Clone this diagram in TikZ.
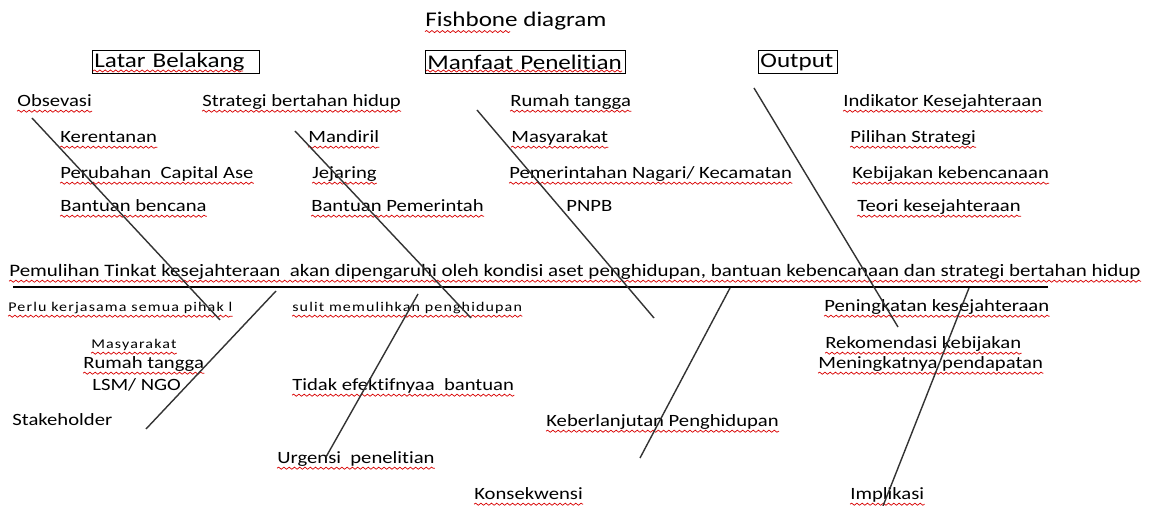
\documentclass[tikz,border=0pt]{standalone}
\usepackage{fontspec}
\setmainfont[FakeStretch=1.2, Ligatures=NoCommon]{Carlito}
\newfontfamily\spacedfont[FakeStretch=1.2, LetterSpace=8.5, Ligatures=NoCommon]{Carlito}
\usetikzlibrary{decorations.pathmorphing}
\tikzset{
  txt/.style={anchor=base west, inner sep=0pt, font=\fontsize{9.8}{12}\selectfont},
  tiny/.style={txt, font={\spacedfont\fontsize{7.6}{9}\selectfont}},
  big/.style={txt, font=\fontsize{11.9}{14}\selectfont},
  hbox/.style={draw, line width=0.8pt, anchor=north west, inner xsep=1pt, inner ysep=0pt,
    minimum height=0.46cm, align=left, font=\fontsize{11.9}{14}\selectfont},
  wavy/.style={draw=red!85!black, line width=0.4pt, decorate,
    decoration={snake, amplitude=0.6pt, segment length=3pt}},
  spell/.style={append after command={([yshift=-2.4pt]\tikzlastnode.base west) edge[wavy] ([yshift=-2.4pt]\tikzlastnode.base east)}},
  bone/.style={draw=black!80, line width=0.8pt},
  spine/.style={draw=black, line width=1.1pt}
}
\begin{document}
\begin{tikzpicture}[x=0.02cm,y=-0.02cm]
\path[fill=white, use as bounding box] (0,0) rectangle (1150,506);
%%%% title and heads
\node[big] (title) at (425,27) {Fishbone diagram};
\draw[wavy] ([yshift=-2.6pt]title.base west) -- +(85,0);
\node[hbox, text width=3.34cm-2pt] (latar) at (92,50) {Latar Belakang};
\node[hbox, text width=4cm-2pt] (manfaat) at (425,50) {Manfaat Penelitian};
\node[hbox, text width=1.58cm-2pt] (output) at (758,50) {Output};
\draw[wavy] (93,71) -- (243,71);
\draw[wavy] (426,71) -- (622,71);
%%%% upper causes
\node[txt, spell] (obs) at (17,107) {Obsevasi};
\node[txt, spell] (keren) at (60,143) {Kerentanan};
\node[txt, spell] (ubah) at (60,179) {Perubahan\ \ Capital Ase};
\node[txt, spell] (bencana) at (60,212) {Bantuan bencana};
\node[txt, spell] (strat) at (202,107) {Strategi bertahan hidup};
\node[txt, spell] (mandiri) at (308,143) {Mandiril};
\node[txt, spell] (jejaring) at (312,179) {Jejaring};
\node[txt, spell] (pemda) at (311,212) {Bantuan Pemerintah};
\node[txt, spell] (rt) at (510,107) {Rumah tangga};
\node[txt, spell] (masy) at (511,143) {Masyarakat};
\node[txt, spell] (nagari) at (509,179) {Pemerintahan Nagari/ Kecamatan};
\node[txt] (pnpb) at (566,212) {PNPB};
\node[txt, spell] (indik) at (843,107) {Indikator Kesejahteraan};
\node[txt, spell] (pilih) at (850,143) {Pilihan Strategi};
\node[txt, spell] (bijak) at (852,179) {Kebijakan kebencanaan};
\node[txt, spell] (teori) at (857,212) {Teori kesejahteraan};
%%%% head line
\node[txt, spell, font=\fontsize{9.95}{12}\selectfont] (head) at (9,277) {Pemulihan Tinkat kesejahteraan\ \ akan dipengaruhi oleh kondisi aset penghidupan, bantuan kebencanaan dan strategi bertahan hidup};
\coordinate (s0) at (13,287);
\coordinate (s1) at (1048,287);
\draw[spine] (s0) -- (s1);
%%%% lower causes
\node[tiny, spell] (kerja) at (8,312) {Perlu kerjasama semua pihak l};
\node[tiny, spell] (sulit) at (292,312) {sulit memulihkan penghidupan};
\node[tiny, spell] (masy2) at (91,349) {Masyarakat};
\node[txt, spell] (rt2) at (83,369) {Rumah tangga};
\node[txt] (lsm) at (92,391) {LSM/ NGO};
\node[txt] (stake) at (12,426) {Stakeholder};
\node[txt, spell] (tidak) at (292,391) {Tidak efektifnyaa\ \ bantuan};
\node[txt, spell] (urgensi) at (277,464) {Urgensi\ \ penelitian};
\node[txt, spell] (konsek) at (474,500) {Konsekwensi};
\node[txt, spell] (lanjut) at (546,427) {Keberlanjutan Penghidupan};
\node[txt, spell] (tingkat) at (824,312) {Peningkatan kesejahteraan};
\node[txt, spell] (rekom) at (825,349) {Rekomendasi kebijakan};
\node[txt, spell] (dapat) at (818,369) {Meningkatnya pendapatan};
\node[txt, spell] (impl) at (850,500) {Implikasi};
%%%% bones
\foreach \n/\p/\q in {1/{32,118}/{220,320}, 2/{295,131}/{471,318}, 3/{477,110}/{654,318},
  4/{754,88}/{898,327}, 5/{276,291}/{146,429}, 6/{418,294}/{326,457},
  7/{730,288}/{640,458}, 8/{969,288}/{883,506}}{
  \coordinate (top\n) at (\p);
  \coordinate (end\n) at (\q);
  \draw[bone] (top\n) -- (end\n);
}
\end{tikzpicture}
\end{document}
